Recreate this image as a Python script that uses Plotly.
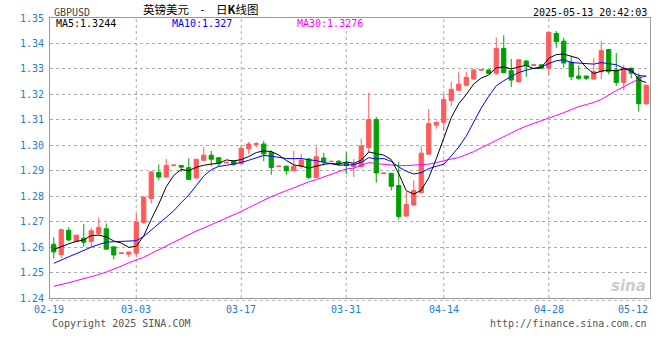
import plotly.graph_objects as go

# ---------------- data ----------------
tick_labels = ["02-19", "03-03", "03-17", "03-31", "04-14", "04-28", "05-12"]
tick_slots = [0, 11, 25, 39, 52, 66, 78]
y_ticks = [1.24, 1.25, 1.26, 1.27, 1.28, 1.29, 1.30, 1.31, 1.32, 1.33, 1.34, 1.35]

opens = [1.2611, 1.2570, 1.2666, 1.2622, 1.2635, 1.2622, 1.2653, 1.2672, 1.2601, 1.2575,
         1.2572, 1.2576, 1.2697, 1.2791, 1.2893, 1.2875, 1.2920, 1.2921, 1.2912, 1.2872,
         1.2941, 1.2961, 1.2951, 1.2931, 1.2938, 1.2927, 1.2986, 1.3004, 1.3005, 1.2972,
         1.2917, 1.2918, 1.2900, 1.2918, 1.2946, 1.2874, 1.2950, 1.2936, 1.2937, 1.2930,
         1.2917, 1.2917, 1.2991, 1.3101, 1.2889, 1.2890, 1.2842, 1.2722, 1.2765, 1.2813,
         1.2965, 1.3079, 1.3090, 1.3176, 1.3216, 1.3236, 1.3260, 1.3295, 1.3296, 1.3283,
         1.3380, 1.3293, 1.3249, 1.3331, 1.3314, 1.3316, 1.3303, 1.3439, 1.3409, 1.3327,
         1.3272, 1.3272, 1.3260, 1.3289, 1.3376, 1.3296, 1.3247, 1.3303, 1.3269, 1.3163]
highs = [1.2638, 1.2673, 1.2679, 1.2647, 1.2690, 1.2677, 1.2716, 1.2693, 1.2601, 1.2578,
         1.2585, 1.2732, 1.2801, 1.2899, 1.2925, 1.2946, 1.2923, 1.2921, 1.2949, 1.2945,
         1.2993, 1.2978, 1.2953, 1.2934, 1.2940, 1.3000, 1.3013, 1.3012, 1.3018, 1.2979,
         1.2919, 1.2918, 1.2979, 1.2966, 1.2950, 1.2995, 1.2970, 1.2938, 1.2942, 1.2972,
         1.2946, 1.3026, 1.3207, 1.3111, 1.2892, 1.2890, 1.2935, 1.2817, 1.2862, 1.2997,
         1.3142, 1.3094, 1.3202, 1.3249, 1.3289, 1.3289, 1.3297, 1.3300, 1.3297, 1.3423,
         1.3432, 1.3339, 1.3339, 1.3335, 1.3317, 1.3317, 1.3449, 1.3449, 1.3423, 1.3349,
         1.3313, 1.3273, 1.3343, 1.3409, 1.3377, 1.3363, 1.3316, 1.3304, 1.3283, 1.3238]
lows = [1.2556, 1.2556, 1.2624, 1.2620, 1.2601, 1.2601, 1.2644, 1.2591, 1.2552, 1.2574,
        1.2561, 1.2561, 1.2690, 1.2771, 1.2863, 1.2872, 1.2919, 1.2895, 1.2866, 1.2867,
        1.2938, 1.2918, 1.2918, 1.2930, 1.2918, 1.2925, 1.2966, 1.2992, 1.2937, 1.2884,
        1.2916, 1.2884, 1.2898, 1.2907, 1.2867, 1.2871, 1.2920, 1.2935, 1.2920, 1.2887,
        1.2875, 1.2910, 1.2972, 1.2853, 1.2888, 1.2822, 1.2707, 1.2720, 1.2763, 1.2811,
        1.2963, 1.3065, 1.3058, 1.3154, 1.3213, 1.3232, 1.3256, 1.3293, 1.3280, 1.3276,
        1.3283, 1.3229, 1.3248, 1.3269, 1.3313, 1.3302, 1.3277, 1.3383, 1.3305, 1.3256,
        1.3256, 1.3256, 1.3259, 1.3260, 1.3279, 1.3233, 1.3216, 1.3263, 1.3132, 1.3159]
closes = [1.2581, 1.2668, 1.2628, 1.2647, 1.2619, 1.2664, 1.2677, 1.2592, 1.2569, 1.2577,
          1.2580, 1.2699, 1.2795, 1.2895, 1.2875, 1.2921, 1.2922, 1.2914, 1.2866, 1.2945,
          1.2961, 1.2945, 1.2928, 1.2933, 1.2925, 1.2988, 1.3005, 1.3006, 1.2966, 1.2913,
          1.2918, 1.2900, 1.2918, 1.2942, 1.2874, 1.2955, 1.2936, 1.2937, 1.2926, 1.2920,
          1.2926, 1.2997, 1.3101, 1.2891, 1.2891, 1.2839, 1.2720, 1.2767, 1.2822, 1.2969,
          1.3085, 1.3090, 1.3180, 1.3220, 1.3240, 1.3267, 1.3296, 1.3297, 1.3282, 1.3380,
          1.3285, 1.3256, 1.3336, 1.3312, 1.3316, 1.3303, 1.3443, 1.3407, 1.3323, 1.3269,
          1.3263, 1.3263, 1.3289, 1.3372, 1.3289, 1.3247, 1.3303, 1.3283, 1.3163, 1.3236]

# moving-average values before the window is complete (history not shown)
ma5_head = [1.2590, 1.2603, 1.2613, 1.2622]
ma10_head = [1.2536, 1.2550, 1.2562, 1.2574, 1.2588, 1.2600, 1.2610, 1.2619, 1.2621]
ma30 = [1.2446, 1.2452, 1.2460, 1.2468, 1.2475, 1.2482, 1.2492, 1.2502, 1.2512, 1.2525,
        1.2538, 1.2548, 1.2560, 1.2575, 1.2590, 1.2605, 1.2620, 1.2635, 1.2650, 1.2663,
        1.2675, 1.2688, 1.2700, 1.2712, 1.2725, 1.2740, 1.2755, 1.2770, 1.2785, 1.2798,
        1.2810, 1.2822, 1.2835, 1.2847, 1.2856, 1.2865, 1.2875, 1.2887, 1.2898, 1.2907,
        1.2910, 1.2920, 1.2932, 1.2928, 1.2925, 1.2922, 1.2920, 1.2920, 1.2922, 1.2924,
        1.2926, 1.2932, 1.2940, 1.2946, 1.2952, 1.2962, 1.2975, 1.2990, 1.3005, 1.3020,
        1.3035, 1.3050, 1.3063, 1.3075, 1.3085, 1.3095, 1.3105, 1.3115, 1.3128, 1.3140,
        1.3152, 1.3160, 1.3168, 1.3180, 1.3198, 1.3215, 1.3230, 1.3245, 1.3262, 1.3276]

legend_texts = ["MA5:1.3244", "MA10:1.327", "MA30:1.3276"]
title_text = "英镑美元\u3000-\u3000日<b>K</b>线图"
symbol_text = "GBPUSD"
time_text = "2025-05-13 20:42:03"
copyright_text = "Copyright 2025 SINA.COM"
url_text = "http://finance.sina.com.cn"

# ---------------- styles ----------------
RED = "#ff5a5a"
GREEN = "#00a000"
BLUE_TXT = "#1a80cc"
GRID = "#aaaaaa"
FRAME = "#999999"
MONO = "DejaVu Sans Mono"

slots = list(range(len(closes)))


def moving_average(vals, w, head):
    out = list(head)
    for i in range(len(head), len(vals)):
        out.append(sum(vals[i - w + 1:i + 1]) / w)
    return out


ma5 = moving_average(closes, 5, ma5_head)
ma10 = moving_average(closes, 10, ma10_head)

fig = go.Figure()
fig.add_trace(go.Candlestick(
    x=slots, open=opens, high=highs, low=lows, close=closes,
    increasing=dict(line=dict(color=RED, width=1), fillcolor=RED),
    decreasing=dict(line=dict(color=GREEN, width=1), fillcolor=GREEN),
    whiskerwidth=0, hoverinfo="skip", showlegend=False))
for vals, col in [(ma30, "#ff00ff"), (ma10, "#0000ff"), (ma5, "#000000")]:
    fig.add_trace(go.Scatter(x=slots, y=vals, mode="lines",
                             line=dict(color=col, width=1), hoverinfo="skip",
                             showlegend=False, cliponaxis=True))

shapes = []
for s in tick_slots[1:-1]:
    shapes.append(dict(type="line", xref="x", yref="paper", x0=s, x1=s, y0=0, y1=1,
                       line=dict(color=GRID, width=1, dash="dot"), layer="below"))
shapes.append(dict(type="line", xref="paper", yref="paper", x0=0, x1=1,
                   y0=-0.009, y1=-0.009, line=dict(color="#bbbbbb", width=1, dash="dot")))

ann = []
# x tick labels
for i, (lab, s) in enumerate(zip(tick_labels, tick_slots)):
    if i == 0:
        ann.append(dict(text=lab, xref="paper", x=0, xanchor="center", xshift=-1))
    elif i == len(tick_labels) - 1:
        ann.append(dict(text=lab, xref="paper", x=1, xanchor="right"))
    else:
        ann.append(dict(text=lab, xref="x", x=s, xanchor="center"))
for a in ann:
    a.update(yref="paper", y=0, yanchor="top", yshift=-4, showarrow=False,
             font=dict(family=MONO, size=10, color=BLUE_TXT))

ann += [
    dict(text=symbol_text, xref="paper", yref="paper", x=0.003, y=1.0214, xanchor="left",
         yanchor="middle", showarrow=False, font=dict(family=MONO, size=10, color="#444444")),
    dict(text=title_text, xref="paper", yref="paper", x=0.25, y=1.032, xanchor="center",
         yanchor="middle", showarrow=False,
         font=dict(family="Noto Sans CJK SC", size=11.5, color="#000000")),
    dict(text=time_text, xref="paper", yref="paper", x=0.998, y=1.0214, xanchor="right",
         yanchor="middle", showarrow=False, font=dict(family=MONO, size=10, color="#000000")),
    dict(text=legend_texts[0], xref="paper", yref="paper", x=0.0067, y=0.9786,
         xanchor="left", yanchor="middle", showarrow=False,
         font=dict(family=MONO, size=10, color="#000000")),
    dict(text=legend_texts[1], xref="paper", yref="paper", x=0.3067, y=0.9786,
         xanchor="right", yanchor="middle", showarrow=False,
         font=dict(family=MONO, size=10, color="#0000ff")),
    dict(text=legend_texts[2], xref="paper", yref="paper", x=0.4083, y=0.9786,
         xanchor="left", yanchor="middle", showarrow=False,
         font=dict(family=MONO, size=10, color="#ff00ff")),
    dict(text=copyright_text, xref="paper", yref="paper", x=0.0, y=-0.0893,
         xanchor="left", yanchor="middle", showarrow=False,
         font=dict(family=MONO, size=10, color="#555555")),
    dict(text=url_text, xref="paper", yref="paper", x=0.998, y=-0.0893,
         xanchor="right", yanchor="middle", showarrow=False,
         font=dict(family=MONO, size=10, color="#555555")),
    dict(text="<b><i>sina</i></b>", xref="paper", yref="paper", x=0.997, y=0.003,
         xanchor="right", yanchor="bottom", showarrow=False,
         font=dict(family="DejaVu Sans", size=15, color="#cccccc")),
]

fig.update_layout(
    width=660, height=360,
    margin=dict(l=50, r=10, t=18, b=62, pad=0),
    paper_bgcolor="white", plot_bgcolor="white",
    showlegend=False, boxgap=0.2,
    shapes=shapes, annotations=ann,
    xaxis=dict(range=[-0.5, len(closes) - 0.5], rangeslider=dict(visible=False),
               showgrid=False, zeroline=False, showticklabels=False, ticks="",
               showline=True, mirror=True, linecolor=FRAME, linewidth=1, fixedrange=True),
    yaxis=dict(range=[y_ticks[0], y_ticks[-1]], tickvals=y_ticks, tickformat=".2f",
               showgrid=True, gridcolor=GRID, griddash="dot", gridwidth=1,
               zeroline=False, ticks="", ticklabelstandoff=3,
               tickfont=dict(family=MONO, size=10, color=BLUE_TXT),
               showline=True, mirror=True, linecolor=FRAME, linewidth=1, fixedrange=True),
)

fig.write_html("out.html")
